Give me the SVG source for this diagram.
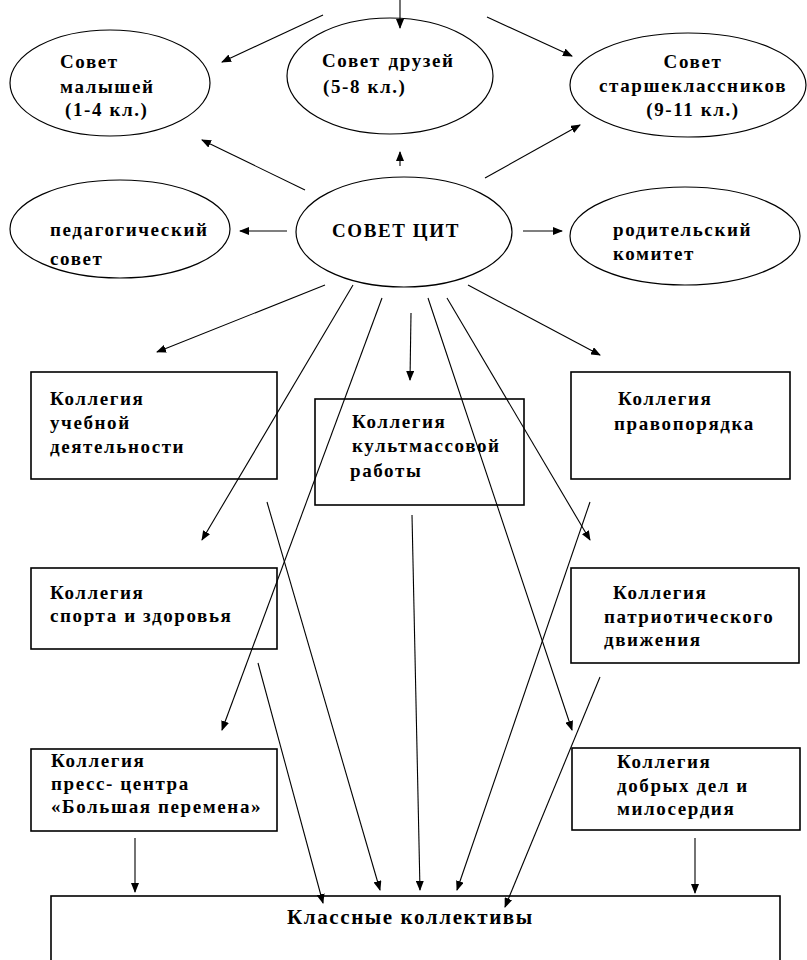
<svg xmlns="http://www.w3.org/2000/svg" width="807" height="960" viewBox="0 0 807 960">
<style>
  text { font-family: "Liberation Serif", "Times New Roman", serif; font-weight: bold; font-size: 19px; fill: #000; letter-spacing: 1.6px; }
  .n { fill: #fff; stroke: #000; stroke-width: 1.2; }
  .b { fill: #fff; stroke: #000; stroke-width: 1.6; }
  .c line { stroke: #000; stroke-width: 1.1; marker-end: url(#ah); }
  .big { font-size: 21px; }
</style>
<defs>
  <marker id="ah" markerWidth="10" markerHeight="8" refX="9" refY="4" orient="auto" markerUnits="userSpaceOnUse">
    <path d="M0,0 L10,4 L0,8 Z" fill="#000"/>
  </marker>
</defs>
<rect width="807" height="960" fill="#fff"/>

<g id="n-malyshey">
  <ellipse class="n" cx="110" cy="83" rx="100" ry="53"/>
  <text x="60" y="68">Совет</text>
  <text x="60" y="93">малышей</text>
  <text x="65" y="116">(1-4 кл.)</text>
</g>
<g id="n-druzey">
  <ellipse class="n" cx="390" cy="76" rx="103" ry="58"/>
  <text x="322" y="67">Совет<tspan dx="8">друзей</tspan></text>
  <text x="323" y="93">(5-8 кл.)</text>
</g>
<g id="n-starshe">
  <ellipse class="n" cx="688" cy="85" rx="118" ry="52"/>
  <text x="693" y="68" text-anchor="middle">Совет</text>
  <text x="693" y="92" text-anchor="middle">старшеклассников</text>
  <text x="693" y="116" text-anchor="middle">(9-11 кл.)</text>
</g>
<g id="n-pedsovet">
  <ellipse class="n" cx="120" cy="229" rx="110" ry="49"/>
  <text x="50" y="236">педагогический</text>
  <text x="50" y="265">совет</text>
</g>
<g id="n-sovet-cit">
  <ellipse class="n" cx="404" cy="232" rx="108" ry="55"/>
  <text x="332" y="237">СОВЕТ ЦИТ</text>
</g>
<g id="n-roditel">
  <ellipse class="n" cx="685" cy="236" rx="115" ry="49"/>
  <text x="613" y="236">родительский</text>
  <text x="613" y="260">комитет</text>
</g>

<g id="b-ucheb">
  <rect class="b" x="31" y="372" width="246" height="107"/>
  <text x="50" y="405">Коллегия</text>
  <text x="50" y="429">учебной</text>
  <text x="50" y="453">деятельности</text>
</g>
<g id="b-kult">
  <rect class="b" x="315" y="399" width="209" height="106"/>
  <text x="352" y="428">Коллегия</text>
  <text x="352" y="452">культмассовой</text>
  <text x="350" y="477">работы</text>
</g>
<g id="b-pravo">
  <rect class="b" x="571" y="372" width="219" height="107"/>
  <text x="618" y="405">Коллегия</text>
  <text x="614" y="430">правопорядка</text>
</g>
<g id="b-sport">
  <rect class="b" x="31" y="568" width="246" height="81"/>
  <text x="50" y="599">Коллегия</text>
  <text x="50" y="622">спорта и здоровья</text>
</g>
<g id="b-patriot">
  <rect class="b" x="571" y="568" width="228" height="95"/>
  <text x="613" y="599">Коллегия</text>
  <text x="604" y="623">патриотического</text>
  <text x="604" y="646">движения</text>
</g>
<g id="b-press">
  <rect class="b" x="31" y="749" width="246" height="82"/>
  <text x="51" y="767">Коллегия</text>
  <text x="51" y="790">пресс- центра</text>
  <text x="51" y="813">«Большая перемена»</text>
</g>
<g id="b-dobro">
  <rect class="b" x="572" y="748" width="228" height="82"/>
  <text x="617" y="768">Коллегия</text>
  <text x="617" y="792">добрых дел и</text>
  <text x="617" y="815">милосердия</text>
</g>
<g id="b-klass">
  <rect class="b" x="51" y="896" width="729" height="80"/>
  <text class="big" x="287" y="924">Классные коллективы</text>
</g>

<g id="connectors" class="c">
  <line x1="400" y1="0" x2="400" y2="28"/>
  <line x1="323" y1="15" x2="222" y2="62"/>
  <line x1="487" y1="17" x2="572" y2="56"/>
  <line x1="305" y1="190" x2="202" y2="140"/>
  <line x1="400" y1="166" x2="400" y2="152"/>
  <line x1="485" y1="178" x2="580" y2="125"/>
  <line x1="287" y1="231" x2="240" y2="231"/>
  <line x1="523" y1="231" x2="562" y2="231"/>
  <line x1="325" y1="285" x2="157" y2="352"/>
  <line x1="353" y1="285" x2="202" y2="540"/>
  <line x1="382" y1="298" x2="222" y2="730"/>
  <line x1="411" y1="313" x2="410" y2="380"/>
  <line x1="428" y1="298" x2="572" y2="730"/>
  <line x1="447" y1="298" x2="590" y2="540"/>
  <line x1="468" y1="285" x2="600" y2="355"/>
  <line x1="267" y1="502" x2="380" y2="890"/>
  <line x1="258" y1="663" x2="323" y2="903"/>
  <line x1="412" y1="515" x2="420" y2="890"/>
  <line x1="590" y1="502" x2="457" y2="890"/>
  <line x1="600" y1="677" x2="505" y2="907"/>
  <line x1="135" y1="838" x2="135" y2="892"/>
  <line x1="695" y1="838" x2="695" y2="893"/>
</g>
</svg>
